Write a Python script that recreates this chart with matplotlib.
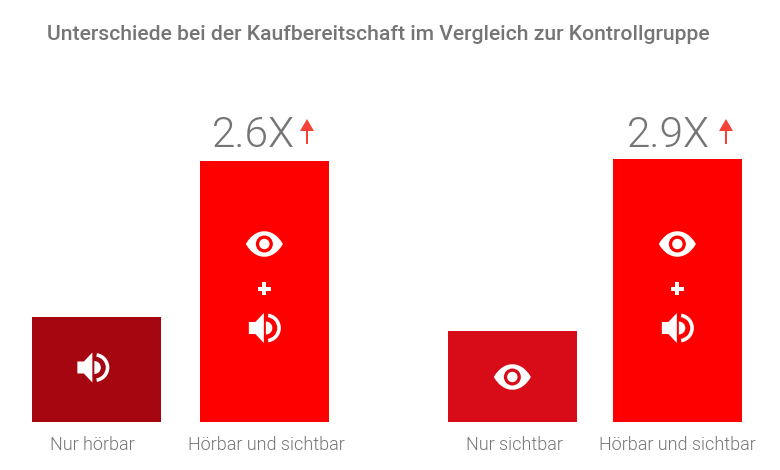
"""Kaufbereitschaft bars with eye and speaker icons."""
import matplotlib
matplotlib.use('Agg')
import matplotlib.pyplot as plt
from matplotlib.patches import Circle, PathPatch, Polygon, Rectangle, Wedge
from matplotlib.path import Path

plt.rcParams['font.family'] = ['Roboto', 'DejaVu Sans']

# Values (bar height in px above the baseline)
labels = ['Nur hörbar', 'Hörbar und sichtbar', 'Nur sichtbar', 'Hörbar und sichtbar']
values = [105, 261, 91, 263]
uplift = ['', '2.6X', '', '2.9X']
icons = ['ear', 'both', 'eye', 'both']

title = 'Unterschiede bei der Kaufbereitschaft im Vergleich zur Kontrollgruppe'
bar_left = [32, 200, 448, 613]
bar_width = 128.7
label_x = [92, 266, 514, 677]
uplift_x = [0, 253, 0, 668]
arrow_x = [0, 307, 0, 726]
bar_colors = ['#a50610', '#ff0000', '#d80b18', '#ff0000']
GREY = '#757575'
ARROW = '#f44336'

fig = plt.figure(figsize=(7.8, 4.7), dpi=100)
# one data unit = one pixel, y=0 is the bar baseline
ax = fig.add_axes([0, 48 / 470, 1, 422 / 470])
ax.set_xlim(0, 780)
ax.set_ylim(0, 422)
ax.axis('off')


def draw_eye(cx, cy, bg):
    verts = [(cx - 18.5, cy), (cx - 9, cy + 17), (cx + 9, cy + 17), (cx + 18.5, cy),
             (cx + 9, cy - 17), (cx - 9, cy - 17), (cx - 18.5, cy)]
    codes = [Path.MOVETO] + [Path.CURVE4] * 6
    ax.add_patch(PathPatch(Path(verts, codes), fc='white', ec='none', zorder=3))
    ax.add_patch(Circle((cx, cy), 8.5, fc=bg, ec='none', zorder=4))
    ax.add_patch(Circle((cx, cy), 5.2, fc='white', ec='none', zorder=5))


def draw_speaker(cx, cy):
    cone = [(cx - 15.5, cy - 6), (cx - 9, cy - 6), (cx - 0.5, cy - 15),
            (cx - 0.5, cy + 15), (cx - 9, cy + 6), (cx - 15.5, cy + 6)]
    ax.add_patch(Polygon(cone, fc='white', ec='none', zorder=3))
    ax.add_patch(Wedge((cx + 1.5, cy), 6.5, -90, 90, fc='white', ec='none', zorder=3))
    ax.add_patch(Wedge((cx + 2, cy), 14.5, -82, 82, width=3.6, fc='white', ec='none', zorder=3))


def draw_plus(cx, cy):
    ax.add_patch(Rectangle((cx - 6.5, cy - 2), 13, 4, fc='white', ec='none', zorder=3))
    ax.add_patch(Rectangle((cx - 2, cy - 6.5), 4, 13, fc='white', ec='none', zorder=3))


def draw_arrow(cx, base):
    ax.add_patch(Rectangle((cx - 1, base), 2, 14, fc=ARROW, ec='none', zorder=3))
    ax.add_patch(Polygon([(cx - 7, base + 13), (cx + 7, base + 13), (cx, base + 25)],
                         fc=ARROW, ec='none', zorder=3))


ax.bar(bar_left, values, width=bar_width, align='edge', color=bar_colors, linewidth=0)

for i, name in enumerate(labels):
    mid = bar_left[i] + bar_width / 2
    ax.text(label_x[i], -22.5, name, ha='center', va='center', fontsize=13,
            fontweight=300, color=GREY)
    if icons[i] == 'ear':
        draw_speaker(mid - 3.5, 54.5)
    elif icons[i] == 'eye':
        draw_eye(mid, 45, bar_colors[i])
    else:
        draw_eye(mid, 178, bar_colors[i])
        draw_plus(mid, 133.5)
        draw_speaker(mid, 94)
    if uplift[i]:
        ax.text(uplift_x[i], 286.5, uplift[i], ha='center', va='center',
                fontsize=30.5, fontweight=300, color=GREY)
        draw_arrow(arrow_x[i], 278)

fig.text(47 / 780, 1 - 35 / 470, title, ha='left', va='center',
         fontsize=15.2, fontweight='medium', color=GREY)

fig.savefig('out.png', dpi=100)
